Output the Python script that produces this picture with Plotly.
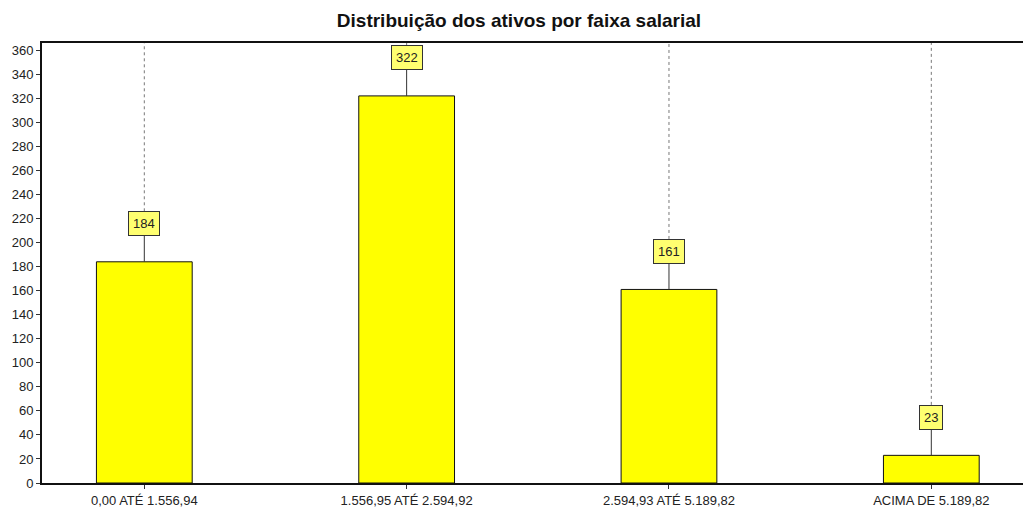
import plotly.graph_objects as go

faixas = ["0,00 ATÉ 1.556,94", "1.556,95 ATÉ 2.594,92", "2.594,93 ATÉ 5.189,82", "ACIMA DE 5.189,82"]
ativos = [184, 322, 161, 23]
y_ticks = list(range(0, 361, 20))
posicoes = list(range(len(faixas)))

fig = go.Figure()
fig.add_trace(go.Bar(
    x=posicoes, y=ativos, width=0.365,
    marker=dict(color="#ffff00", line=dict(color="#111111", width=1)),
    hovertext=faixas, hoverinfo="text+y",
))

# caixas de valor com linha de ligacao
for p, v in zip(posicoes, ativos):
    fig.add_annotation(
        x=p, y=v, text=str(v), showarrow=True, arrowhead=0, arrowwidth=1,
        arrowcolor="#333333", ax=0, ay=-38,
        bgcolor="#ffff70", bordercolor="#333333", borderwidth=1, borderpad=4,
        font=dict(family="Liberation Sans, Arial", size=13, color="#222222"),
    )
    fig.add_shape(type="line", xref="x", yref="y", x0=p, x1=p, y0=v + 42, y1=366,
                  line=dict(color="#777777", width=1, dash="3px,3px"), layer="below")

# a pagina tem margem de 8px no body
fig.update_layout(
    width=1023, height=503,
    margin=dict(l=34, r=0, t=35, b=28),
    paper_bgcolor="white", plot_bgcolor="white",
    title=dict(text="<b>Distribuição dos ativos por faixa salarial</b>",
               x=0.4995, xanchor="center", y=0.976, yanchor="middle",
               font=dict(family="Liberation Sans, Arial", size=19, color="#111111")),
    font=dict(family="Liberation Sans, Arial", size=13, color="#222222"),
    showlegend=False,
)
fig.update_xaxes(
    range=[-0.39, 3.38], tickvals=posicoes, ticktext=faixas,
    showgrid=False, showline=True, linecolor="#111111",
    linewidth=2, mirror=True, ticks="outside", ticklen=4, tickcolor="#333333",
    tickfont=dict(size=13),
)
fig.update_yaxes(
    range=[0, 366], tickvals=y_ticks, showgrid=False, showline=True,
    linecolor="#111111", linewidth=2, ticks="outside", ticklen=4,
    tickcolor="#333333", zeroline=False, tickfont=dict(size=13),
)

fig.write_html("out.html")
